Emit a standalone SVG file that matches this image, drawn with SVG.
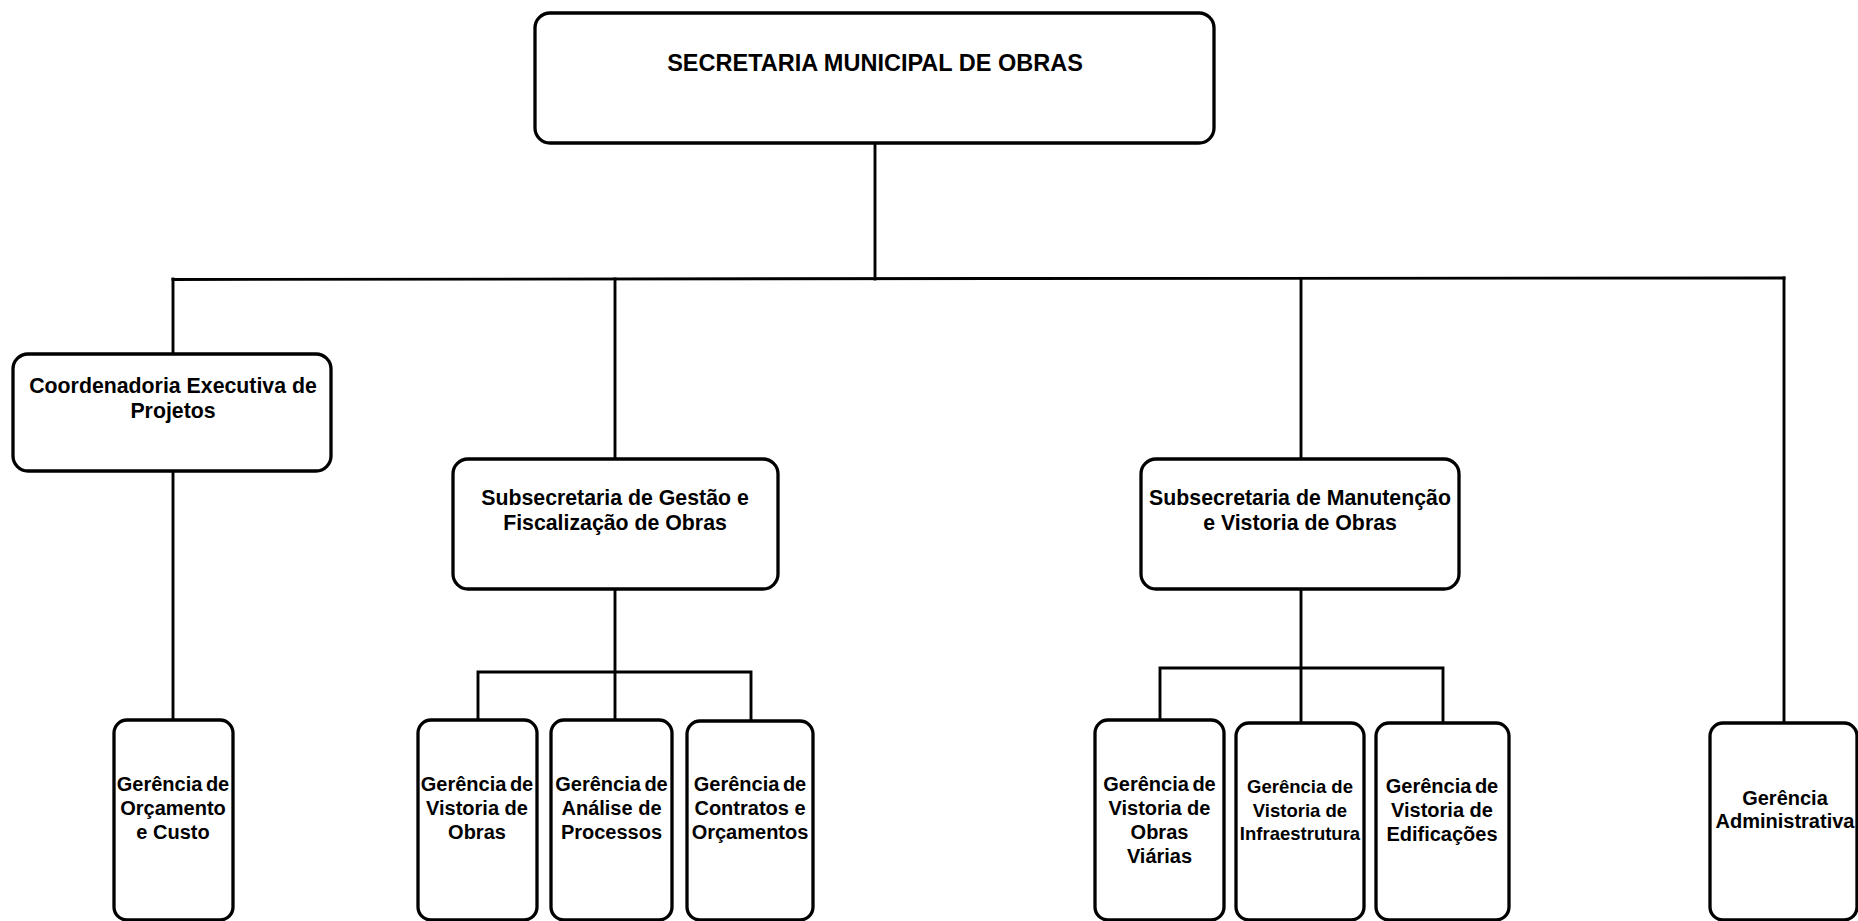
<svg xmlns="http://www.w3.org/2000/svg" width="1858" height="921" viewBox="0 0 1858 921">
<style>
.box{fill:#fff;stroke:#000;stroke-width:3.3}
.ln{fill:none;stroke:#000;stroke-width:2.9;stroke-linecap:square}
text{font-family:"Liberation Sans",Arial,sans-serif;font-weight:bold;fill:#000;text-anchor:middle}
.t1{font-size:23.5px}
.t2{font-size:21.3px}
.t3{font-size:20px}
.t4{font-size:18.5px}
</style>
<rect width="1858" height="921" fill="#fff"/>
<g id="connectors">
<line class="ln" x1="875" y1="143" x2="875" y2="279"/>
<polyline class="ln" points="173,279.5 1000,278.5 1784,278"/>
<line class="ln" x1="173" y1="279" x2="173" y2="354"/>
<line class="ln" x1="173" y1="471" x2="173" y2="720"/>
<line class="ln" x1="615" y1="279" x2="615" y2="459"/>
<line class="ln" x1="615" y1="589" x2="615" y2="720"/>
<polyline class="ln" points="478,720 478,672 751,672 751,720"/>
<line class="ln" x1="1301" y1="279" x2="1301" y2="459"/>
<line class="ln" x1="1301" y1="589" x2="1301" y2="722"/>
<polyline class="ln" points="1160,720 1160,668 1443,668 1443,722"/>
<line class="ln" x1="1784" y1="278" x2="1784" y2="722"/>
</g>
<g id="secretaria">
<rect class="box" x="535" y="13" width="679" height="130" rx="15"/>
<text class="t1" x="875" y="71">SECRETARIA MUNICIPAL DE OBRAS</text>
</g>
<g id="coordenadoria">
<rect class="box" x="13" y="354" width="318" height="117" rx="15"/>
<text class="t2" x="173" y="393">Coordenadoria Executiva de</text>
<text class="t2" x="173" y="418">Projetos</text>
</g>
<g id="subsec-gestao">
<rect class="box" x="453" y="459" width="325" height="130" rx="15"/>
<text class="t2" x="615" y="505">Subsecretaria de Gestão e</text>
<text class="t2" x="615" y="530">Fiscalização de Obras</text>
</g>
<g id="subsec-manutencao">
<rect class="box" x="1141" y="459" width="318" height="130" rx="15"/>
<text class="t2" x="1300" y="505">Subsecretaria de Manutenção</text>
<text class="t2" x="1300" y="530">e Vistoria de Obras</text>
</g>
<g id="ger-orcamento">
<rect class="box" x="114" y="720" width="119" height="200" rx="13"/>
<text class="t3" x="173" y="791" word-spacing="-2">Gerência de</text>
<text class="t3" x="173" y="815">Orçamento</text>
<text class="t3" x="173" y="839">e Custo</text>
</g>
<g id="ger-vistoria-obras">
<rect class="box" x="418" y="720" width="119" height="200" rx="13"/>
<text class="t3" x="477" y="791" word-spacing="-2">Gerência de</text>
<text class="t3" x="477" y="815">Vistoria de</text>
<text class="t3" x="477" y="839">Obras</text>
</g>
<g id="ger-analise">
<rect class="box" x="551" y="720" width="121" height="200" rx="13"/>
<text class="t3" x="611.5" y="791" word-spacing="-2">Gerência de</text>
<text class="t3" x="611.5" y="815">Análise de</text>
<text class="t3" x="611.5" y="839">Processos</text>
</g>
<g id="ger-contratos">
<rect class="box" x="687" y="721" width="126" height="199" rx="13"/>
<text class="t3" x="750" y="791" word-spacing="-2">Gerência de</text>
<text class="t3" x="750" y="815">Contratos e</text>
<text class="t3" x="750" y="839">Orçamentos</text>
</g>
<g id="ger-obras-viarias">
<rect class="box" x="1095" y="720" width="129" height="200" rx="13"/>
<text class="t3" x="1159.5" y="791" word-spacing="-2">Gerência de</text>
<text class="t3" x="1159.5" y="815">Vistoria de</text>
<text class="t3" x="1159.5" y="839">Obras</text>
<text class="t3" x="1159.5" y="863">Viárias</text>
</g>
<g id="ger-infraestrutura">
<rect class="box" x="1236" y="723" width="128" height="197" rx="13"/>
<text class="t4" x="1300" y="793">Gerência de</text>
<text class="t4" x="1300" y="817">Vistoria de</text>
<text class="t4" x="1300" y="840">Infraestrutura</text>
</g>
<g id="ger-edificacoes">
<rect class="box" x="1376" y="723" width="133" height="197" rx="13"/>
<text class="t3" x="1442" y="793" word-spacing="-2">Gerência de</text>
<text class="t3" x="1442" y="817">Vistoria de</text>
<text class="t3" x="1442" y="841">Edificações</text>
</g>
<g id="ger-administrativa">
<rect class="box" x="1710" y="723" width="147" height="197" rx="13"/>
<text class="t3" x="1785" y="805">Gerência</text>
<text class="t3" x="1785" y="828">Administrativa</text>
</g>
</svg>
